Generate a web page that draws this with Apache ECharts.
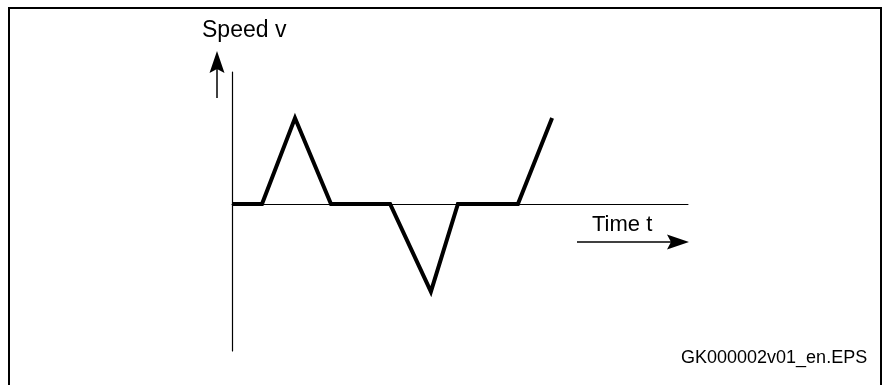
<!DOCTYPE html>
<html>
<head>
<meta charset="utf-8">
<script src="https://cdn.jsdelivr.net/npm/echarts@6/dist/echarts.min.js"></script>
<style>
  html, body { margin: 0; padding: 0; background: #fff; }
  #chart { width: 883px; height: 385px; }
</style>
</head>
<body>
<div id="chart"></div>
<script>
// time (arbitrary units) and speed values of the profile
const times = [0, 1, 2.1, 3.3, 5.27, 6.63, 7.53, 9.53, 10.67];
const speeds = [0, 0, 1, 0, 0, -1.02, 0, 0, 1];
const yLabel = 'Speed v';
const xLabel = 'Time t';
const footer = 'GK000002v01_en.EPS';

window.onload = () => {
    const chart = echarts.init(document.getElementById('chart'));
    const font = 'Liberation Sans, Arial, sans-serif';

    chart.setOption({
        animation: false,
        grid: { left: 232, top: 72, width: 456, height: 279 },
        xAxis: {
            type: 'value', min: 0, max: 15.2,
            axisLine: { onZero: true, lineStyle: { color: '#000', width: 1 } },
            axisTick: { show: false }, axisLabel: { show: false }, splitLine: { show: false }
        },
        yAxis: {
            type: 'value', min: -1.71, max: 1.535,
            axisLine: { show: true, lineStyle: { color: '#000', width: 1.2 } },
            axisTick: { show: false }, axisLabel: { show: false }, splitLine: { show: false }
        },
        series: [{
            type: 'line',
            data: times.map((t, i) => [t, speeds[i]]),
            showSymbol: false,
            lineStyle: { color: '#000', width: 4, join: 'miter' }
        }],
        graphic: [
            // frame
            { type: 'rect', shape: { x: 9, y: 8, width: 872, height: 400 },
              style: { fill: 'none', stroke: '#000', lineWidth: 2 } },
            // speed arrow
            { type: 'line', shape: { x1: 217, y1: 98, x2: 217, y2: 68 },
              style: { stroke: '#000', lineWidth: 1.5 } },
            { type: 'polygon', shape: { points: [[217, 51], [224.5, 73], [217, 69], [209.5, 73]] },
              style: { fill: '#000' } },
            { type: 'text', left: 202, top: 19,
              style: { text: yLabel, font: '23px ' + font, fill: '#000' } },
            // time arrow
            { type: 'line', shape: { x1: 577, y1: 242, x2: 674, y2: 242 },
              style: { stroke: '#000', lineWidth: 1.5 } },
            { type: 'polygon', shape: { points: [[689, 242], [667, 249.5], [671, 242], [667, 234.5]] },
              style: { fill: '#000' } },
            { type: 'text', left: 592, top: 214,
              style: { text: xLabel, font: '22px ' + font, fill: '#000' } },
            // file name
            { type: 'text', left: 681, top: 349,
              style: { text: footer, font: '18px ' + font, fill: '#000' } }
        ]
    });
};
</script>
</body>
</html>
